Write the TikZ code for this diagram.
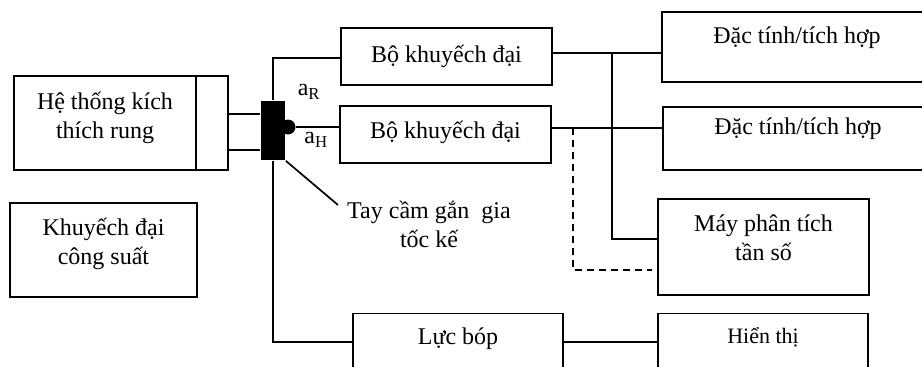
\documentclass[tikz,border=0pt]{standalone}
\usepackage{fontspec}
\setmainfont{Liberation Serif}
\usetikzlibrary{positioning}
\tikzset{
  box/.style={draw, rectangle, inner sep=0pt},
  txt/.style={align=center, yshift=#1pt},
  txt/.default=0,
}
\begin{document}
\begin{tikzpicture}[x=1pt, y=-1pt, line width=1.7pt, font=\fontsize{24pt}{29pt}\selectfont]
\useasboundingbox (0,0) rectangle (922,367);
\clip (0,0) rectangle (922,367);
\node[box, minimum width=182pt, minimum height=94pt, label={[txt=5]center:Hệ thống kích\\thích rung}] (hethong) at (105,123){};
\node[box, minimum width=32pt, minimum height=94pt] (shaker) at (212,123){};
\node[box, minimum width=187pt, minimum height=94pt, label={[txt=6]center:Khuyếch đại\\công suất}] (khuyech) at (103.5,250){};
\node[fill, inner sep=0pt, minimum width=24pt, minimum height=59pt] (handle) at (273,130.5){};
\node[circle, fill, inner sep=0pt, minimum size=15pt] (dot) at (288,127){};
\node (ar) at (309,92){a\textsubscript{R}};
\node (ah) at (316,140){a\textsubscript{H}};
\node[box, minimum width=211pt, minimum height=57pt] (amp1) at (446.5,56.5){Bộ khuyếch đại};
\node[box, minimum width=211pt, minimum height=57pt, label={[txt=2]center:Bộ khuyếch đại}] (amp2) at (445.5,134.5){};
\node[box, minimum width=270pt, minimum height=70pt, label={[txt=9]center:Đặc tính/tích hợp}] (dac1) at (797,47){};
\node[box, minimum width=270pt, minimum height=63pt, label={[txt=10]center:Đặc tính/tích hợp}] (dac2) at (798,138.5){};
\node[box, minimum width=211pt, minimum height=96pt, label={[txt=9]center:Máy phân tích\\tần số}] (may) at (763.5,247){};
\node[box, minimum width=210pt, minimum height=57pt, label={[txt=3]center:Lực bóp}] (lucbop) at (458,342){};
\node[box, minimum width=210pt, minimum height=57pt, label={[txt=5, font=\fontsize{22pt}{26pt}\selectfont]center:Hiển thị}] (hienthi) at (763,342){};
\coordinate (tip) at (338,205);
\node[align=center] (taycam) at (429,224){Tay cầm gắn~~gia\\tốc kế};
\coordinate (j1) at (612,53);
\coordinate (j2) at (573,128);
\coordinate (dend) at (652,270);
\draw (shaker.east |- 0,114) -- (handle.west |- 0,114);
\draw (shaker.east |- 0,150) -- (handle.west |- 0,150);
\draw (handle.north) |- (amp1.west |- 0,58);
\draw (dot) -- (amp2.west |- dot);
\draw (amp1.east |- 0,53) -- (dac1.west |- 0,53);
\draw (amp2.east |- 0,128) -- (dac2.west |- 0,128);
\draw (j1) |- (may.west |- 0,239);
\draw[dash pattern=on 7pt off 5pt] (j2) |- (dend);
\draw (handle.south) |- (lucbop.west);
\draw (lucbop.east) -- (hienthi.west);
\draw (handle.south east) -- (tip);
\end{tikzpicture}
\end{document}
